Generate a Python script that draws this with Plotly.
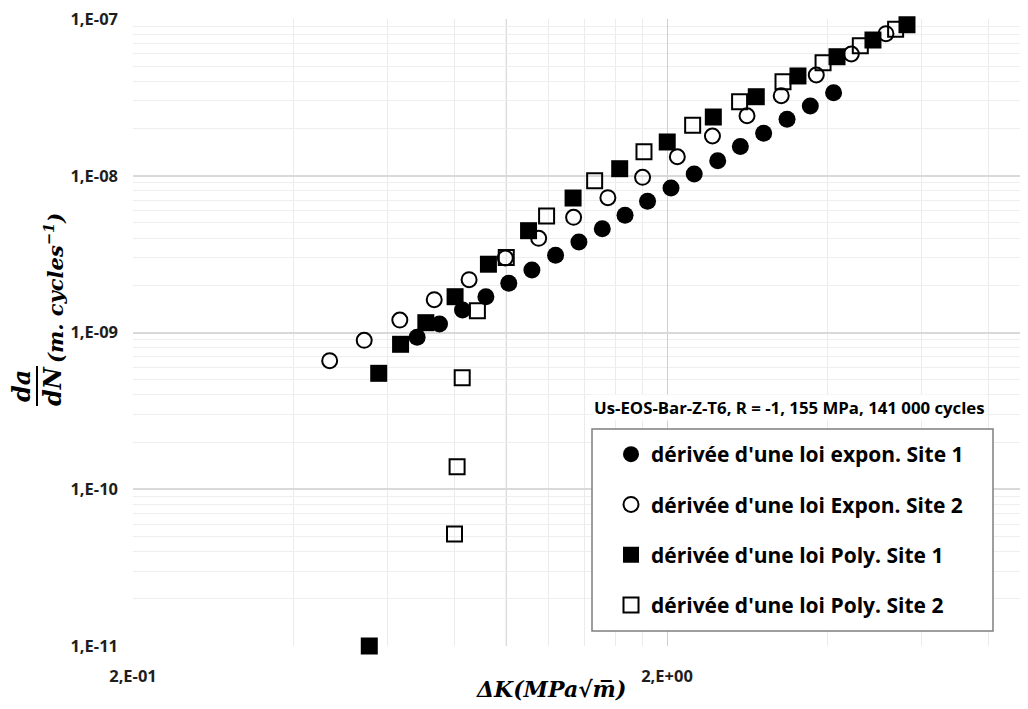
import math
import plotly.graph_objects as go

# ---------------- data ----------------
names = [
    "dérivée d'une loi expon. Site 1",
    "dérivée d'une loi Expon. Site 2",
    "dérivée d'une loi Poly. Site 1",
    "dérivée d'une loi Poly. Site 2",
]

dk_exp_s1 = [0.681, 0.750, 0.828, 0.916, 1.011, 1.117, 1.237, 1.368, 1.513, 1.669,
             1.839, 2.035, 2.249, 2.489, 2.744, 3.034, 3.356, 3.710, 4.102]
dadn_exp_s1 = [9.32e-10, 1.133e-9, 1.392e-9, 1.692e-9, 2.06e-9, 2.504e-9, 3.108e-9,
               3.779e-9, 4.596e-9, 5.594e-9, 6.871e-9, 8.35e-9, 1.026e-8, 1.247e-8,
               1.537e-8, 1.866e-8, 2.291e-8, 2.786e-8, 3.386e-8]

dk_exp_s2 = [0.467, 0.542, 0.632, 0.733, 0.852, 0.996, 1.150, 1.337, 1.550, 1.800,
             2.091, 2.433, 2.824, 3.273, 3.807, 4.428, 5.141]
dadn_exp_s2 = [6.61e-10, 8.92e-10, 1.201e-9, 1.619e-9, 2.172e-9, 2.987e-9, 3.99e-9,
               5.43e-9, 7.244e-9, 9.77e-9, 1.322e-8, 1.793e-8, 2.415e-8, 3.24e-8,
               4.393e-8, 5.978e-8, 8.06e-8]

dk_poly_s1 = [0.554, 0.577, 0.634, 0.707, 0.802, 0.926, 1.101, 1.334, 1.631, 2.002,
              2.442, 2.939, 3.518, 4.163, 4.861, 5.629]
dadn_poly_s1 = [1.0e-11, 5.49e-10, 8.41e-10, 1.155e-9, 1.692e-9, 2.727e-9, 4.462e-9,
                7.21e-9, 1.109e-8, 1.642e-8, 2.37e-8, 3.193e-8, 4.33e-8, 5.745e-8,
                7.345e-8, 9.19e-8]

dk_poly_s2 = [0.800, 0.809, 0.827, 0.883, 1.000, 1.190, 1.464, 1.811, 2.234, 2.735,
              3.298, 3.920, 4.603, 5.360]
dadn_poly_s2 = [5.18e-11, 1.393e-10, 5.15e-10, 1.378e-9, 3.01e-9, 5.535e-9, 9.30e-9,
                1.424e-8, 2.099e-8, 2.969e-8, 3.98e-8, 5.26e-8, 6.757e-8, 8.597e-8]

y_tickvals = [1e-11, 1e-10, 1e-9, 1e-8, 1e-7]
y_ticktext = ["1,E-11", "1,E-10", "1,E-09", "1,E-08", "1,E-07"]
x_tickvals = [0.2, 2.0]
x_ticktext = ["2,E-01", "2,E+00"]
x_minor = [0.4, 0.6, 0.8, 1.2, 1.4, 1.6, 1.8, 4, 6, 8]
x_mid_line = 1.0
y_minor = [k * 10.0 ** e for e in range(-11, -7) for k in range(2, 10)]

chart_note = "Us-EOS-Bar-Z-T6, R = -1, 155 MPa, 141 000 cycles"

# ---------------- layout geometry ----------------
# the page body has an 8px margin, so the figure starts at (8, 8) on screen
OFF = 8
W, H = 1028 - OFF, 709 - OFF
P_LEFT, P_TOP, P_RIGHT, P_BOTTOM = 133, 19, 1028, 646   # plot area on screen
ML = P_LEFT - OFF
MT = P_TOP - OFF
MR = (OFF + W) - P_RIGHT
MB = (OFF + H) - P_BOTTOM
PW = P_RIGHT - P_LEFT
PH = P_BOTTOM - P_TOP


def px(x):
    return (x - P_LEFT) / PW


def py(y):
    return (P_BOTTOM - y) / PH


x_lo = math.log10(0.2)
x_hi = x_lo + PW / 534.0

fig = go.Figure()

common = dict(mode="markers", cliponaxis=False)
# drawing order (bottom -> top), legend order set by legendrank
fig.add_trace(go.Scatter(x=dk_poly_s2, y=dadn_poly_s2, name=names[3], legendrank=4,
                         legendgroup="d",
                         marker=dict(symbol="square-open", size=15, color="black",
                                     line=dict(width=2, color="black")), **common))
fig.add_trace(go.Scatter(x=dk_exp_s2, y=dadn_exp_s2, name=names[1], legendrank=2,
                         legendgroup="b",
                         marker=dict(symbol="circle-open", size=15, color="black",
                                     line=dict(width=2, color="black")), **common))
fig.add_trace(go.Scatter(x=dk_exp_s1, y=dadn_exp_s1, name=names[0], legendrank=1,
                         legendgroup="a",
                         marker=dict(symbol="circle", size=17, color="black"), **common))
fig.add_trace(go.Scatter(x=dk_poly_s1, y=dadn_poly_s1, name=names[2], legendrank=3,
                         legendgroup="c",
                         marker=dict(symbol="square", size=17, color="black"), **common))

tickfont = dict(family="Open Sans", size=16.5, color="#1e1e1e", weight="bold")

fig.update_xaxes(type="log", range=[x_lo, x_hi],
                 tickmode="array", tickvals=x_tickvals, ticktext=x_ticktext,
                 showgrid=True, gridcolor="#cfcfcf", gridwidth=1,
                 minor=dict(tickmode="array", tickvals=x_minor, showgrid=True,
                            gridcolor="#ebebeb", gridwidth=1),
                 zeroline=False, showline=False, ticks="",
                 ticklabeloverflow="allow",
                 ticklabelstandoff=18, tickfont=tickfont)
fig.update_yaxes(type="log", range=[-11, -7],
                 tickmode="array", tickvals=y_tickvals, ticktext=y_ticktext,
                 showgrid=True, gridcolor="#d9d9d9", gridwidth=1.6,
                 minor=dict(tickmode="array", tickvals=y_minor, showgrid=True,
                            gridcolor="#eeeeee", gridwidth=1),
                 zeroline=False, showline=False, ticks="",
                 ticklabeloverflow="allow",
                 ticklabelstandoff=14, tickfont=tickfont)

shapes = [
    # darker vertical grid line at 1.0
    dict(type="line", xref="x", yref="paper", x0=x_mid_line, x1=x_mid_line,
         y0=0, y1=1, line=dict(color="#cfcfcf", width=1), layer="below"),
    # legend frame
    dict(type="rect", xref="paper", yref="paper", x0=px(592), x1=px(993),
         y0=py(631), y1=py(429), fillcolor="white",
         line=dict(color="#7f7f7f", width=1.5), layer="above"),
    # fraction bar of da/dN
    dict(type="line", xref="paper", yref="paper", x0=px(37), x1=px(37),
         y0=py(366), y1=py(406), line=dict(color="black", width=2)),
]

mathfont = dict(family="DejaVu Serif", size=24, color="black")
annotations = [
    dict(text="<b><i>da</i></b>", x=px(21), y=py(386), xref="paper", yref="paper",
         textangle=-90, showarrow=False, xanchor="center", yanchor="middle",
         font=mathfont),
    dict(text="<b><i>dN</i></b>", x=px(52), y=py(386), xref="paper", yref="paper",
         textangle=-90, showarrow=False, xanchor="center", yanchor="middle",
         font=mathfont),
    dict(text="<b><i>(m. cycles<sup>−1</sup>)</i></b>", x=px(54), y=py(288),
         xref="paper", yref="paper", textangle=-90, showarrow=False,
         xanchor="center", yanchor="middle",
         font=dict(family="DejaVu Serif", size=21, color="black")),
    dict(text="<b><i>ΔK(MPa√m\u0305)</i></b>", x=px(551), y=py(689), xref="paper",
         yref="paper", showarrow=False, xanchor="center", yanchor="middle",
         font=dict(family="DejaVu Serif", size=22, color="black")),
    dict(text="<b>" + chart_note + "</b>", x=px(789), y=py(407), xref="paper",
         yref="paper", showarrow=False, xanchor="center", yanchor="middle",
         bgcolor="white", font=dict(family="Open Sans", size=16.8, color="black")),
]

fig.update_layout(
    width=W, height=H,
    margin=dict(l=ML, r=MR, t=MT, b=MB, pad=0),
    paper_bgcolor="white", plot_bgcolor="white",
    shapes=shapes, annotations=annotations,
    showlegend=True,
    legend=dict(x=px(611), y=py(434), xanchor="left", yanchor="top",
                bgcolor="rgba(0,0,0,0)", borderwidth=0,
                traceorder="grouped", tracegroupgap=20,
                font=dict(family="Open Sans", size=21, color="black", weight="bold")),
)

fig.write_html("out.html")
